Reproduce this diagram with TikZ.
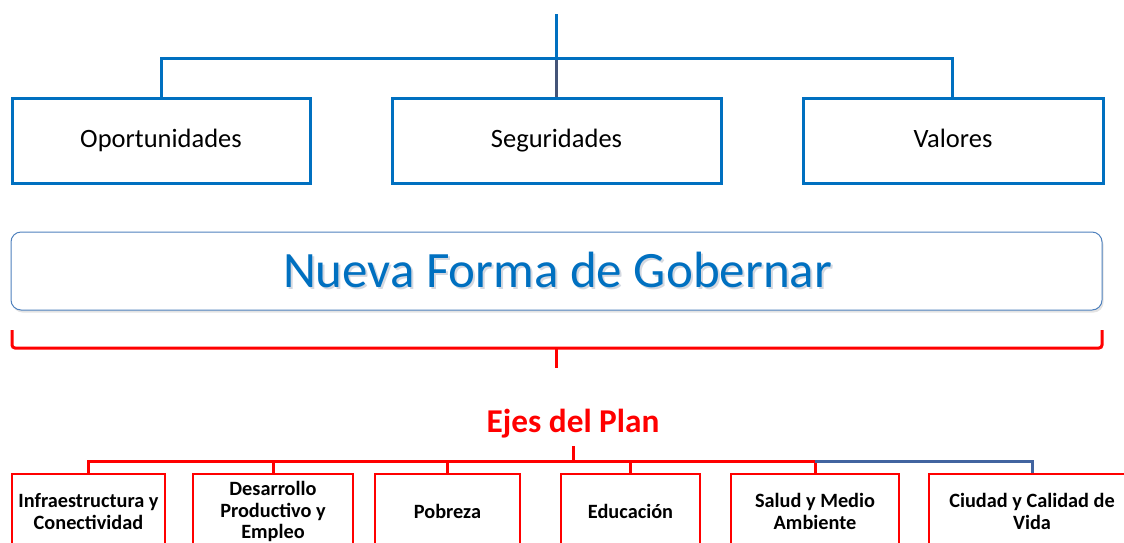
\documentclass[tikz,border=0pt]{standalone}
\usepackage{fontspec}
\setmainfont{Carlito}
\usetikzlibrary{shadows}
\definecolor{cblue}{RGB}{0,112,192}
\definecolor{fblue}{RGB}{79,129,189}
\definecolor{sblue}{RGB}{68,84,120}
\definecolor{gblue}{RGB}{65,100,160}
\definecolor{pred}{RGB}{255,0,0}
\definecolor{tshadow}{RGB}{212,216,224}
\newcommand{\shadowtext}[1]{\makebox[0pt][l]{\hspace{2pt}\raisebox{-2.5pt}{\color{tshadow}#1}}{\color{cblue}#1}}
\begin{document}
\begin{tikzpicture}[x=1pt,y=-1pt,
  topbox/.style={draw=cblue,line width=3pt,minimum height=85pt,inner sep=0pt,font=\fontsize{26.5}{30}\selectfont,text=black,text height=19pt,text depth=5pt},
  blueline/.style={draw=cblue,line width=3pt},
  redline/.style={draw=pred,line width=3pt},
  ejebox/.style={draw=pred,line width=2pt,minimum height=75pt,inner sep=0pt,align=center,font=\bfseries\fontsize{20.3}{21.8}\selectfont,text=black},
  nfbox/.style={draw=fblue,line width=1pt,rounded corners=10pt,minimum width=1091pt,minimum height=78pt,fill=white,
     drop shadow={shadow xshift=1.5pt,shadow yshift=-2.5pt,opacity=0.18,fill=black!60}},
]
\useasboundingbox (0,0) rectangle (1124,542);
\clip (0,0) rectangle (1124,542);

% top level
\node[topbox,minimum width=298pt] (opo) at (161,140.5) {Oportunidades};
\node[topbox,minimum width=329pt] (seg) at (556.5,140.5) {Seguridades};
\node[topbox,minimum width=300pt] (val) at (953,140.5) {Valores};
\coordinate (top) at (556,14);
\coordinate (jn) at (556,58);
\coordinate (hl) at (161,58);
\coordinate (hr) at (952,58);
\draw[blueline] (top) -- (jn);
\draw[draw=sblue,line width=3pt] (jn) -- (seg.north -| jn);
\draw[blueline] (opo.north -| hl) -- (hl) -- (hr) -- (val.north -| hr);

% Nueva forma de gobernar
\node[nfbox] (nf) at (556.5,271) {};
\node[font=\fontsize{51}{56}\selectfont] (nft) at (557.5,271) {\shadowtext{Nueva Forma de Gobernar}};

% brace
\coordinate (bl) at (12,330);
\coordinate (bll) at (12,348);
\coordinate (brr) at (1102,348);
\coordinate (br) at (1102,330);
\coordinate (bm) at (556,348);
\coordinate (bt) at (556,368);
\draw[redline,rounded corners=3pt] (bl) -- (bll) -- (brr) -- (br);
\draw[redline] (bm) -- (bt);

% Ejes del plan
\node[text=pred,font=\bfseries\fontsize{33.3}{38}\selectfont] (ejes) at (573,424) {Ejes del Plan};
\coordinate (ej) at (573,446);
\coordinate (bus) at (573,461);

\node[ejebox,minimum width=153pt] (b1) at (88.5,511.5) {Infraestructura y\\Conectividad};
\node[ejebox,minimum width=160pt] (b2) at (273,511.5) {Desarrollo\\Productivo y\\Empleo};
\node[ejebox,minimum width=145pt] (b3) at (447.5,511.5) {Pobreza};
\node[ejebox,minimum width=139pt] (b4) at (630.5,511.5) {Educación};
\node[ejebox,minimum width=168pt] (b5) at (815,511.5) {Salud y Medio\\Ambiente};
\node[ejebox,minimum width=206pt] (b6) at (1032,511.5) {Ciudad y Calidad de\\Vida};

\draw[redline] (ej) -- (bus);
\draw[redline] (b1.north) -- (b1.north |- bus) -- (b5.north |- bus) -- (b5.north);
\draw[redline] (b2.north) -- (b2.north |- bus);
\draw[redline] (b3.north) -- (b3.north |- bus);
\draw[redline] (b4.north) -- (b4.north |- bus);
\draw[draw=gblue,line width=3pt] (b5.north |- bus) -- (b6.north |- bus) -- (b6.north);
\end{tikzpicture}
\end{document}
